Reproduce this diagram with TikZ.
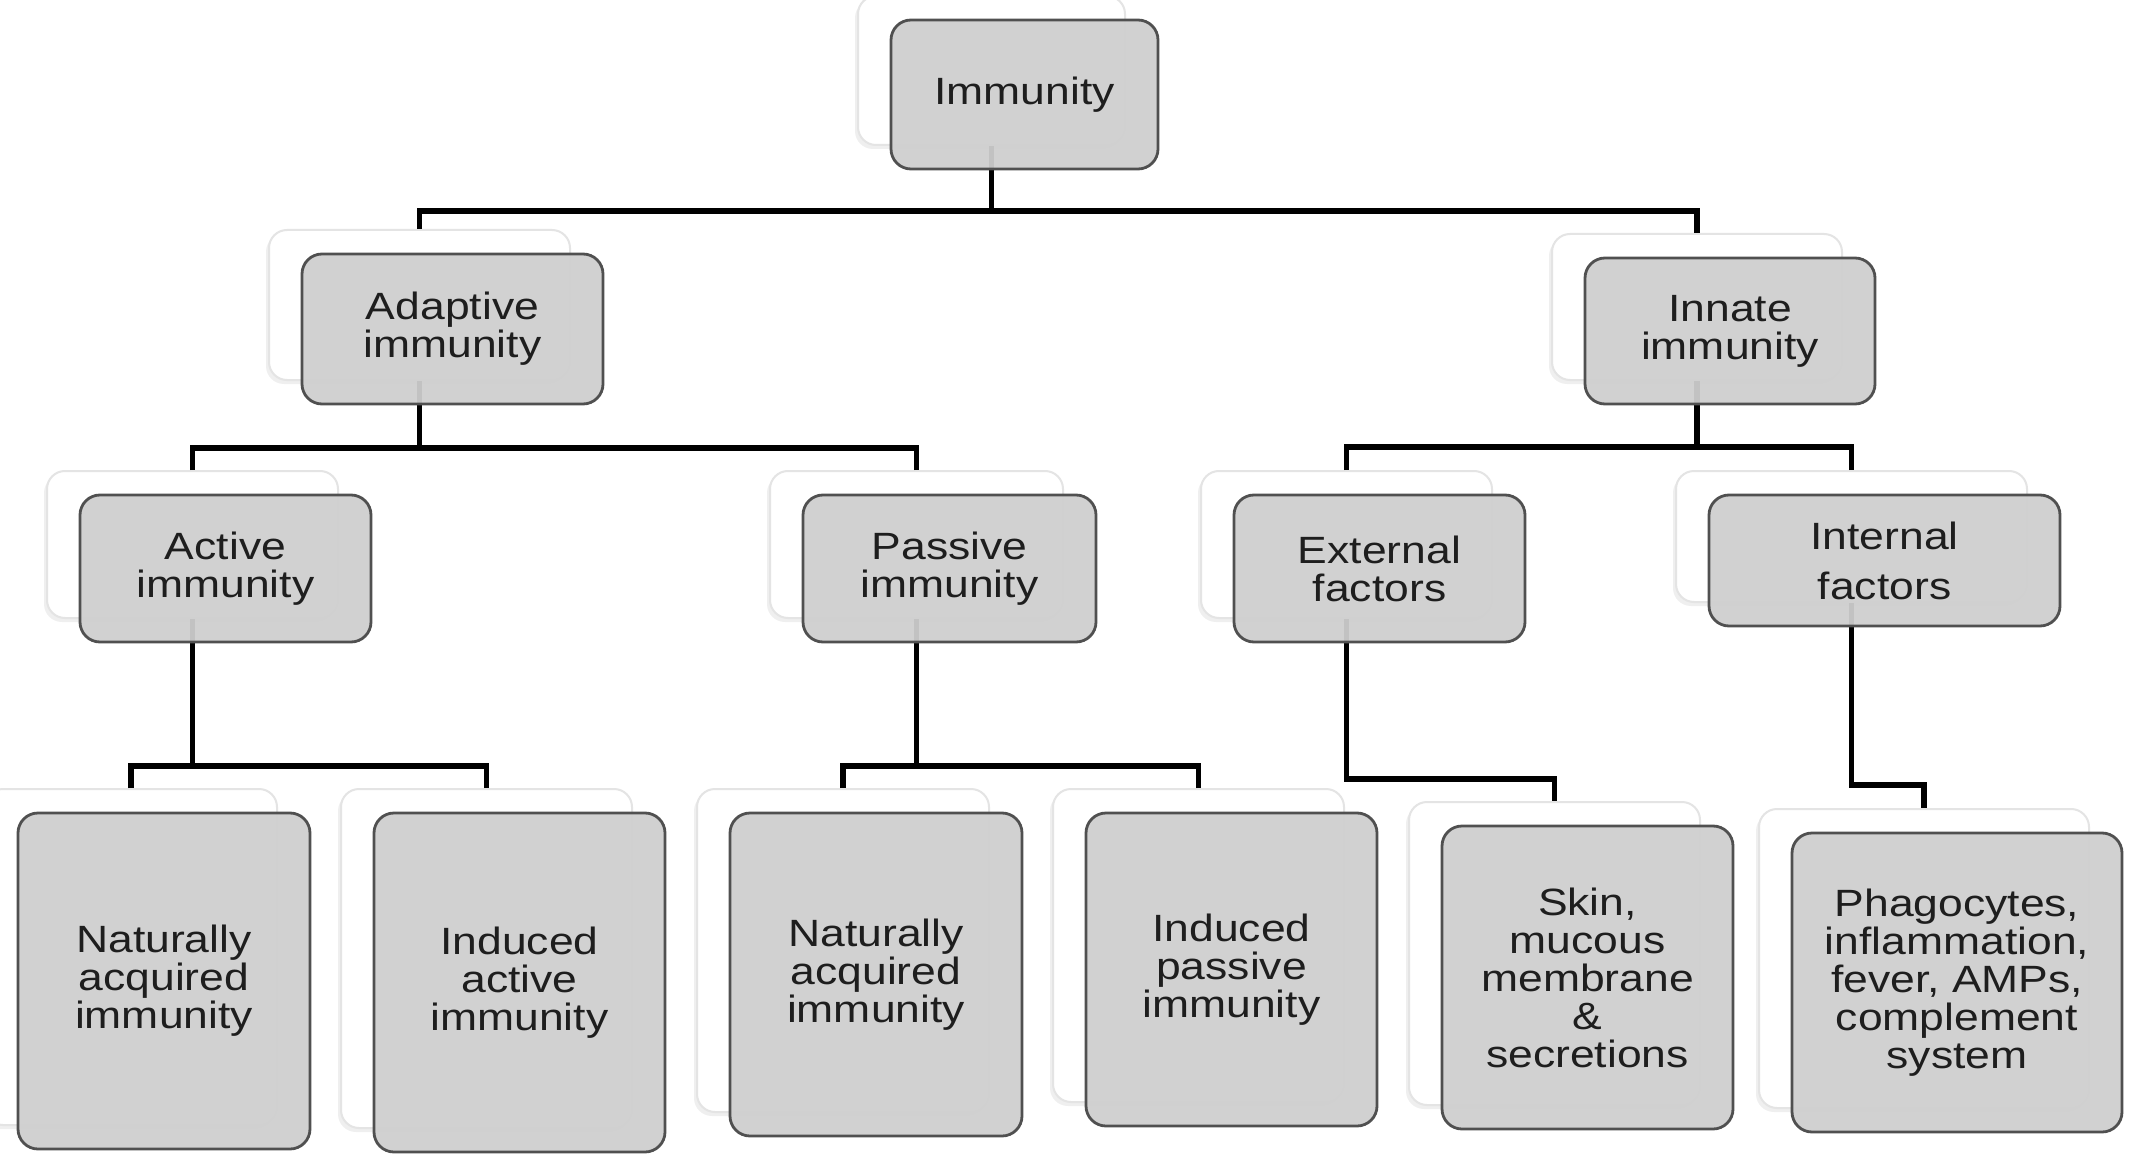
\documentclass[tikz,border=0pt]{standalone}
\usepackage{fontspec}
\setmainfont{Liberation Sans}[FakeStretch=1.17]
\usetikzlibrary{shadows}
\definecolor{boxfill}{RGB}{207,207,207}
\definecolor{boxline}{RGB}{80,80,80}
\definecolor{backline}{RGB}{228,228,228}
\definecolor{txt}{RGB}{30,30,30}
\begin{document}
\begin{tikzpicture}[x=1pt,y=-1pt,
  backbox/.style={draw=backline, line width=2pt, fill=white, rounded corners=18pt, inner sep=0pt,
    drop shadow={shadow xshift=-3pt, shadow yshift=-4pt, opacity=0.12}},
  frontbox/.style={draw=boxline, line width=2.8pt, fill=boxfill, fill opacity=0.94, text opacity=1,
    rounded corners=20pt, align=center, inner sep=0pt, text=txt, font=\fontsize{38}{38}\selectfont},
  conn/.style={line width=5.5pt, black}]
\useasboundingbox[fill=white] (0,0) rectangle (2133,1155);

% back boxes
\node[backbox, minimum width=267pt, minimum height=149pt] (immb) at (991.5,70.5) {};
\node[backbox, minimum width=301pt, minimum height=150pt] (adab) at (419.5,305) {};
\node[backbox, minimum width=290pt, minimum height=146pt] (innb) at (1697,307) {};
\node[backbox, minimum width=291pt, minimum height=147pt] (actb) at (192.5,544.5) {};
\node[backbox, minimum width=293pt, minimum height=147pt] (pasb) at (916.5,544.5) {};
\node[backbox, minimum width=291pt, minimum height=147pt] (extb) at (1346.5,544.5) {};
\node[backbox, minimum width=351pt, minimum height=131pt] (intb) at (1851.5,536.5) {};
\node[backbox, minimum width=292pt, minimum height=336pt] (b1b) at (131,957) {};
\node[backbox, minimum width=291pt, minimum height=339pt] (b2b) at (486.5,958.5) {};
\node[backbox, minimum width=292pt, minimum height=323pt] (b3b) at (843,950.5) {};
\node[backbox, minimum width=291pt, minimum height=313pt] (b4b) at (1198.5,945.5) {};
\node[backbox, minimum width=291pt, minimum height=303pt] (b5b) at (1554.5,953.5) {};
\node[backbox, minimum width=330pt, minimum height=299pt] (b6b) at (1924,958.5) {};

% bar levels
\coordinate (bar0) at (0,211);
\coordinate (bar1) at (0,448);
\coordinate (bar2) at (0,447);
\coordinate (bar3) at (0,766);
\coordinate (bar4) at (0,766);
\coordinate (bar5) at (0,779);
\coordinate (bar6) at (0,785);

% connectors
\draw[conn] (adab.north) |- (bar0 -| immb.south) -- (immb.south);
\draw[conn] (innb.north) |- (bar0 -| immb.south);
\draw[conn] (actb.north) |- (bar1 -| adab.south) -- (adab.south);
\draw[conn] (pasb.north) |- (bar1 -| adab.south);
\draw[conn] (extb.north) |- (bar2 -| innb.south) -- (innb.south);
\draw[conn] (intb.north) |- (bar2 -| innb.south);
\draw[conn] (b1b.north) |- (bar3 -| actb.south) -- (actb.south);
\draw[conn] (b2b.north) |- (bar3 -| actb.south);
\draw[conn] (b3b.north) |- (bar4 -| pasb.south) -- (pasb.south);
\draw[conn] (b4b.north) |- (bar4 -| pasb.south);
\draw[conn] (extb.south) |- (bar5 -| b5b.north) -- (b5b.north);
\draw[conn] (intb.south) |- (bar6 -| b6b.north) -- (b6b.north);

% front boxes
\node[frontbox, minimum width=267pt, minimum height=149pt] (imm) at (1024.5,94.5) {Immunity};
\node[frontbox, minimum width=301pt, minimum height=150pt] (ada) at (452.5,329) {Adaptive\\immunity};
\node[frontbox, minimum width=290pt, minimum height=146pt] (inn) at (1730,331) {Innate\\immunity};
\node[frontbox, minimum width=291pt, minimum height=147pt] (act) at (225.5,568.5) {Active\\immunity};
\node[frontbox, minimum width=293pt, minimum height=147pt] (pas) at (949.5,568.5) {Passive\\immunity};
\node[frontbox, minimum width=291pt, minimum height=147pt] (ext) at (1379.5,568.5) {External\\factors};
\node[frontbox, minimum width=351pt, minimum height=131pt] (int) at (1884.5,560.5) {Internal\\[12pt]factors};
\node[frontbox, minimum width=292pt, minimum height=336pt] (b1) at (164,981) {Naturally\\acquired\\immunity};
\node[frontbox, minimum width=291pt, minimum height=339pt] (b2) at (519.5,982.5) {Induced\\active\\immunity};
\node[frontbox, minimum width=292pt, minimum height=323pt] (b3) at (876,974.5) {Naturally\\acquired\\immunity};
\node[frontbox, minimum width=291pt, minimum height=313pt] (b4) at (1231.5,969.5) {Induced\\passive\\immunity};
\node[frontbox, minimum width=291pt, minimum height=303pt] (b5) at (1587.5,977.5) {Skin,\\mucous\\membrane\\\&\\secretions};
\node[frontbox, minimum width=330pt, minimum height=299pt] (b6) at (1957,982.5) {Phagocytes,\\inflammation,\\fever, AMPs,\\complement\\system};
\end{tikzpicture}
\end{document}
